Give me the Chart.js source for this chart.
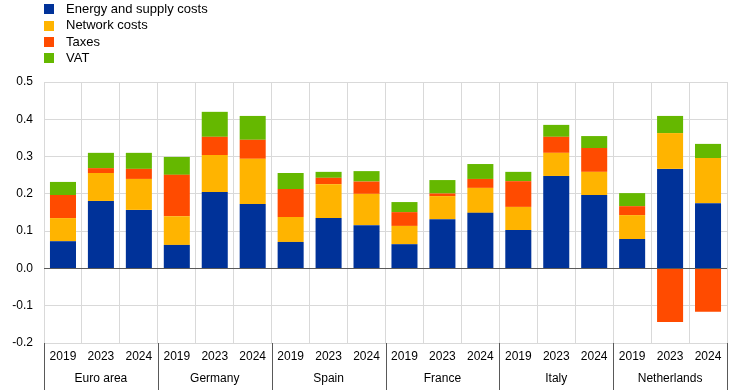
<!DOCTYPE html>
<html>
<head>
<meta charset="utf-8">
<script src="https://cdn.jsdelivr.net/npm/chart.js@4"></script>
<style>
  body { margin: 0; background: #fff; font-family: "Liberation Sans", Arial, sans-serif; }
  #wrap { position: relative; width: 744px; height: 390px; }
  #chart { position: absolute; left: 0; top: 0; }
  #legend { position: absolute; left: 44px; top: 1px; font-size: 13px; color: #000; }
  .item { height: 16.4px; line-height: 16.4px; display: flex; align-items: center; }
  .box { width: 10px; height: 10px; margin-right: 12px; }
</style>
</head>
<body>
<div id="wrap">
  <canvas id="chart" width="744" height="390"></canvas>
  <div id="legend"></div>
</div>
<script>
// カテゴリ（国・地域と年）
const groups = ["Euro area", "Germany", "Spain", "France", "Italy", "Netherlands"];
const years = ["2019", "2023", "2024"];

// 系列の値（各国 2019, 2023, 2024 の順）
const energy = [0.073, 0.181, 0.157, 0.063, 0.205, 0.173, 0.071, 0.135, 0.116,
                0.065, 0.132, 0.149, 0.103, 0.248, 0.197, 0.079, 0.267, 0.175];
const network = [0.062, 0.075, 0.083, 0.077, 0.099, 0.121, 0.067, 0.091, 0.084,
                 0.049, 0.062, 0.067, 0.062, 0.062, 0.062, 0.064, 0.096, 0.121];
const taxes = [0.062, 0.013, 0.027, 0.111, 0.049, 0.051, 0.075, 0.017, 0.033,
               0.037, 0.007, 0.024, 0.069, 0.043, 0.064, 0.024, -0.144, -0.116];
const vat = [0.035, 0.041, 0.043, 0.048, 0.067, 0.064, 0.043, 0.016, 0.028,
             0.027, 0.036, 0.040, 0.025, 0.032, 0.032, 0.035, 0.046, 0.038];

const seriesNames = ["Energy and supply costs", "Network costs", "Taxes", "VAT"];
const seriesColors = ["#003299", "#FFB400", "#FF4B00", "#65B800"];

// y軸の範囲
const yMin = -0.2;
const yMax = 0.5;
const yStep = 0.1;

const labels = groups.flatMap(() => years);

// 凡例（縦並び）
const legend = document.getElementById("legend");
seriesNames.forEach((name, i) => {
  const row = document.createElement("div");
  row.className = "item";
  row.innerHTML = '<span class="box" style="background:' + seriesColors[i] + '"></span>' + name;
  legend.appendChild(row);
});

// 国名と区切り線、ゼロ線を描くプラグイン
const groupPlugin = {
  id: "groupPlugin",
  afterDatasetsDraw(chart) {
    const ctx = chart.ctx;
    const area = chart.chartArea;
    const y0 = Math.round(chart.scales.y.getPixelForValue(0)) + 0.5;
    ctx.save();
    ctx.strokeStyle = "#595959";
    ctx.lineWidth = 1;
    ctx.beginPath();
    ctx.moveTo(area.left, y0);
    ctx.lineTo(area.right, y0);
    ctx.stroke();
    ctx.restore();
  },
  afterDraw(chart) {
    const ctx = chart.ctx;
    const xs = chart.scales.x;
    const area = chart.chartArea;
    ctx.save();
    ctx.strokeStyle = "#595959";
    ctx.lineWidth = 1;
    ctx.fillStyle = "#000";
    ctx.font = '12px "Liberation Sans", Arial, sans-serif';
    ctx.textAlign = "center";
    ctx.textBaseline = "middle";
    for (let g = 0; g <= groups.length; g++) {
      const x = Math.round(xs.getPixelForValue(g * years.length - 0.5)) + 0.5;
      ctx.beginPath();
      ctx.moveTo(x, area.bottom);
      ctx.lineTo(x, chart.height);
      ctx.stroke();
    }
    groups.forEach((name, g) => {
      const x = xs.getPixelForValue(g * years.length + 1);
      ctx.fillText(name, x, 379);
    });
    ctx.restore();
  },
};

new Chart(document.getElementById("chart"), {
  type: "bar",
  data: {
    labels: labels,
    datasets: [energy, network, taxes, vat].map((values, i) => ({
      label: seriesNames[i],
      data: values,
      backgroundColor: seriesColors[i],
      categoryPercentage: 1,
      barPercentage: 0.686,
    })),
  },
  options: {
    responsive: false,
    animation: false,
    layout: { padding: { top: 82, right: 17, left: 0, bottom: 0 } },
    plugins: { legend: { display: false }, tooltip: { enabled: false } },
    scales: {
      x: {
        stacked: true,
        afterFit: (scale) => { scale.height = 47; },
        grid: { offset: true, color: "#d9d9d9", drawTicks: false },
        border: { color: "#d9d9d9" },
        ticks: {
          color: "#000",
          padding: 6,
          maxRotation: 0,
          autoSkip: false,
          font: { family: '"Liberation Sans", Arial, sans-serif', size: 12 },
        },
      },
      y: {
        stacked: true,
        min: yMin,
        max: yMax,
        afterFit: (scale) => { scale.width = 44; },
        grid: {
          color: (c) => (Math.abs(c.tick.value) < 1e-9 ? "#595959" : "#d9d9d9"),
          drawTicks: false,
        },
        border: { color: "#d9d9d9" },
        ticks: {
          stepSize: yStep,
          color: "#000",
          padding: 11,
          callback: (v) => (Math.abs(v) < 1e-9 ? 0 : v).toFixed(1),
          font: { family: '"Liberation Sans", Arial, sans-serif', size: 12 },
        },
      },
    },
  },
  plugins: [groupPlugin],
});
</script>
</body>
</html>
